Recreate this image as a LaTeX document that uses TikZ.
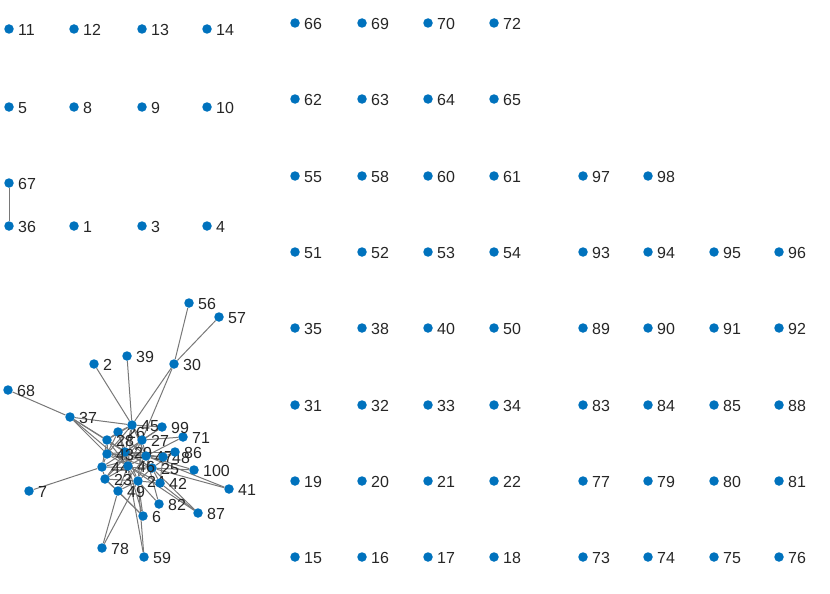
\documentclass[tikz,border=0pt]{standalone}
\usepackage{fontspec}
\setmainfont{Liberation Sans}
\usetikzlibrary{backgrounds}
\definecolor{mblue}{RGB}{0,114,189}
\definecolor{lblc}{RGB}{38,38,38}
\definecolor{edgec}{RGB}{120,120,120}
\tikzset{
  dot/.style={circle,fill=mblue,draw=none,inner sep=0pt,minimum size=9.5pt},
  lbl/.style={inner sep=0pt,label distance=4pt,text=lblc,font=\fontsize{16}{16}\selectfont,yshift=-0.8pt},
  edge/.style={draw=edgec,line width=1pt}
}
\newcommand\mynode[3]{\node[dot,label={[lbl]right:#3}] (n#3) at (#1,#2) {};}
\begin{document}
\begin{tikzpicture}[x=1pt,y=-1pt]
\useasboundingbox (0,0) rectangle (830,594);
% left block
\mynode{9}{29}{11}\mynode{74}{29}{12}\mynode{142}{29}{13}\mynode{207}{29}{14}
\mynode{9}{107}{5}\mynode{74}{107}{8}\mynode{142}{107}{9}\mynode{207}{107}{10}
\mynode{9}{183}{67}
\mynode{9}{226}{36}\mynode{74}{226}{1}\mynode{142}{226}{3}\mynode{207}{226}{4}
% middle block
\mynode{295}{23}{66}\mynode{362}{23}{69}\mynode{428}{23}{70}\mynode{494}{23}{72}
\mynode{295}{99}{62}\mynode{362}{99}{63}\mynode{428}{99}{64}\mynode{494}{99}{65}
\mynode{295}{176}{55}\mynode{362}{176}{58}\mynode{428}{176}{60}\mynode{494}{176}{61}
\mynode{295}{252}{51}\mynode{362}{252}{52}\mynode{428}{252}{53}\mynode{494}{252}{54}
\mynode{295}{328}{35}\mynode{362}{328}{38}\mynode{428}{328}{40}\mynode{494}{328}{50}
\mynode{295}{405}{31}\mynode{362}{405}{32}\mynode{428}{405}{33}\mynode{494}{405}{34}
\mynode{295}{481}{19}\mynode{362}{481}{20}\mynode{428}{481}{21}\mynode{494}{481}{22}
\mynode{295}{557}{15}\mynode{362}{557}{16}\mynode{428}{557}{17}\mynode{494}{557}{18}
% right block
\mynode{583}{176}{97}\mynode{648}{176}{98}
\mynode{583}{252}{93}\mynode{648}{252}{94}\mynode{714}{252}{95}\mynode{779}{252}{96}
\mynode{583}{328}{89}\mynode{648}{328}{90}\mynode{714}{328}{91}\mynode{779}{328}{92}
\mynode{583}{405}{83}\mynode{648}{405}{84}\mynode{714}{405}{85}\mynode{779}{405}{88}
\mynode{583}{481}{77}\mynode{648}{481}{79}\mynode{714}{481}{80}\mynode{779}{481}{81}
\mynode{583}{557}{73}\mynode{648}{557}{74}\mynode{714}{557}{75}\mynode{779}{557}{76}
% cluster
\mynode{94}{364}{2}\mynode{143}{516}{6}\mynode{29}{491}{7}
\mynode{105}{479}{23}\mynode{138}{481}{24}\mynode{152}{468}{25}
\mynode{118}{432}{26}\mynode{142}{440}{27}\mynode{107}{440}{28}
\mynode{125}{452}{29}\mynode{174}{364}{30}\mynode{70}{417}{37}
\mynode{127}{356}{39}\mynode{229}{489}{41}\mynode{160}{483}{42}
\mynode{107}{454}{43}\mynode{102}{467}{44}\mynode{132}{425}{45}
\mynode{128}{466}{46}\mynode{146}{456}{47}\mynode{163}{457}{48}
\mynode{118}{491}{49}\mynode{189}{303}{56}\mynode{219}{317}{57}
\mynode{144}{557}{59}\mynode{8}{390}{68}\mynode{183}{437}{71}
\mynode{102}{548}{78}\mynode{159}{504}{82}\mynode{175}{452}{86}
\mynode{198}{513}{87}\mynode{162}{427}{99}\mynode{194}{470}{100}
\begin{scope}[on background layer]
\foreach \a/\b in {36/67,56/30,57/30,30/45,30/27,2/45,39/45,68/37,37/45,37/43,37/29,37/28,37/46,
  7/44,41/25,41/47,100/25,100/47,87/42,87/25,87/46,82/24,82/47,6/49,6/24,6/46,6/23,78/24,59/24,78/49,59/29,
  99/27,99/45,99/29,71/47,71/27,86/48,86/25,86/29,
  45/26,45/27,45/29,45/46,45/28,45/47,45/43,26/28,26/29,26/43,26/47,27/47,27/29,27/46,28/43,28/44,28/29,29/46,29/47,
  43/44,43/46,43/29,44/23,44/25,44/29,23/49,23/24,23/46,23/29,24/25,24/42,24/49,24/47,25/42,25/47,25/29,46/47,46/24,
  47/48,48/42,48/29,49/46,49/47,28/25,43/48,26/24,23/27,44/47,42/46,26/46,27/24,28/46,43/25}
  \draw[edge] (n\a) -- (n\b);
\end{scope}
\end{tikzpicture}
\end{document}
